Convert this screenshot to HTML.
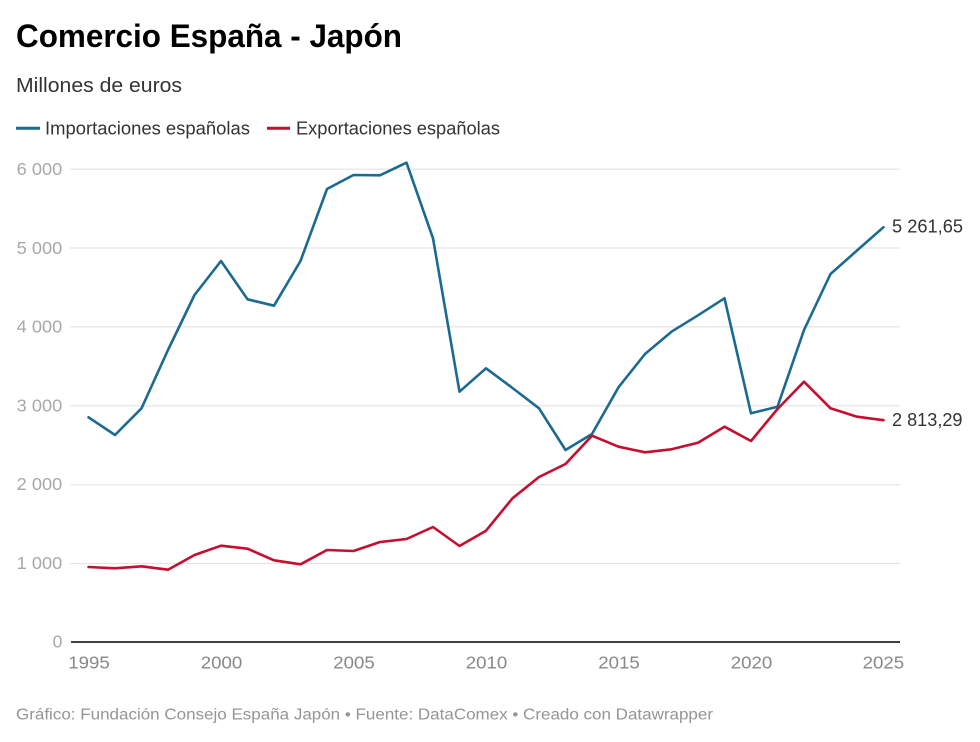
<!DOCTYPE html>
<html>
<head>
<meta charset="utf-8">
<style>
  html,body{margin:0;padding:0;background:#fff;}
  svg{display:block;}
  text{font-family:"Liberation Sans",sans-serif;}
</style>
</head>
<body>
<svg width="980" height="742" viewBox="0 0 980 742" xmlns="http://www.w3.org/2000/svg">
  <rect x="0" y="0" width="980" height="742" fill="#fff"/>
  <!-- Title -->
  <text x="16" y="47" font-size="32" font-weight="bold" fill="#000" textLength="386" lengthAdjust="spacingAndGlyphs">Comercio España - Japón</text>
  <text x="16" y="92" font-size="20" fill="#333" textLength="166" lengthAdjust="spacingAndGlyphs">Millones de euros</text>

  <!-- Legend -->
  <line x1="16" y1="128.3" x2="40" y2="128.3" stroke="#1b6a91" stroke-width="3"/>
  <text x="45" y="134.5" font-size="18.5" fill="#333" textLength="205" lengthAdjust="spacingAndGlyphs">Importaciones españolas</text>
  <line x1="267" y1="128.3" x2="290" y2="128.3" stroke="#c40f2e" stroke-width="3"/>
  <text x="296" y="134.5" font-size="18.5" fill="#333" textLength="204" lengthAdjust="spacingAndGlyphs">Exportaciones españolas</text>

  <!-- Gridlines -->
  <g stroke="#e4e4e4" stroke-width="1.2">
    <line x1="70" y1="169.2" x2="900" y2="169.2"/>
    <line x1="70" y1="248" x2="900" y2="248"/>
    <line x1="70" y1="326.9" x2="900" y2="326.9"/>
    <line x1="70" y1="405.8" x2="900" y2="405.8"/>
    <line x1="70" y1="484.7" x2="900" y2="484.7"/>
    <line x1="70" y1="563.5" x2="900" y2="563.5"/>
  </g>
  <line x1="71" y1="642" x2="900" y2="642" stroke="#000" stroke-width="1.4"/>

  <!-- Y labels -->
  <g font-size="17.5" fill="#a8a8a8">
    <text x="16.7" y="175" textLength="45.5" lengthAdjust="spacingAndGlyphs">6 000</text>
    <text x="16.7" y="253.8" textLength="45.5" lengthAdjust="spacingAndGlyphs">5 000</text>
    <text x="16.7" y="332.6" textLength="45.5" lengthAdjust="spacingAndGlyphs">4 000</text>
    <text x="16.7" y="411.4" textLength="45.5" lengthAdjust="spacingAndGlyphs">3 000</text>
    <text x="16.7" y="490.2" textLength="45.5" lengthAdjust="spacingAndGlyphs">2 000</text>
    <text x="16.7" y="569" textLength="45.5" lengthAdjust="spacingAndGlyphs">1 000</text>
    <text x="62.3" y="647.6" text-anchor="end">0</text>
  </g>

  <!-- X labels -->
  <g font-size="17.5" fill="#888">
    <text x="68.3" y="668.5" textLength="41.5" lengthAdjust="spacingAndGlyphs">1995</text>
    <text x="200.8" y="668.5" textLength="41.5" lengthAdjust="spacingAndGlyphs">2000</text>
    <text x="333.3" y="668.5" textLength="41.5" lengthAdjust="spacingAndGlyphs">2005</text>
    <text x="465.8" y="668.5" textLength="41.5" lengthAdjust="spacingAndGlyphs">2010</text>
    <text x="598.3" y="668.5" textLength="41.5" lengthAdjust="spacingAndGlyphs">2015</text>
    <text x="730.8" y="668.5" textLength="41.5" lengthAdjust="spacingAndGlyphs">2020</text>
    <text x="862.7" y="668.5" textLength="41.5" lengthAdjust="spacingAndGlyphs">2025</text>
  </g>

  <!-- Series: Importaciones -->
  <polyline fill="none" stroke="#1b6a91" stroke-width="2.6" stroke-linejoin="round" stroke-linecap="round"
    points="88.5,417.3 115,435 141.5,408.3 168,350 194.5,295 221,261 247.5,299.3 274,305.7 300.5,261 327,189 353.5,175 380,175.3 406.5,162.7 433,238.3 459.5,391.7 486,368.3 512.5,388 539,408.3 565.5,450 592,434 618.5,387.3 645,354 671.5,331.7 698,315.3 724.5,298.3 751,413.3 777.5,406.7 804,330 830.5,274 857,250.5 883.5,227.2"/>

  <!-- Series: Exportaciones -->
  <polyline fill="none" stroke="#c40f2e" stroke-width="2.6" stroke-linejoin="round" stroke-linecap="round"
    points="88.5,567 115,568.3 141.5,566.3 168,569.7 194.5,555 221,545.7 247.5,548.7 274,560.3 300.5,564.3 327,550 353.5,551 380,542 406.5,539 433,527 459.5,546 486,530.7 512.5,498.3 539,477 565.5,464 592,435.7 618.5,446.7 645,452.3 671.5,449.3 698,442.7 724.5,426.7 751,441 777.5,409 804,381.7 830.5,408.3 857,416.7 883.5,420.2"/>

  <!-- End labels -->
  <text x="892" y="232.5" font-size="18" fill="#333" textLength="71" lengthAdjust="spacingAndGlyphs">5 261,65</text>
  <text x="892" y="426" font-size="18" fill="#333" textLength="70.5" lengthAdjust="spacingAndGlyphs">2 813,29</text>

  <!-- Footer -->
  <text x="16" y="719.5" font-size="15.5" fill="#959595" textLength="697" lengthAdjust="spacingAndGlyphs">Gráfico: Fundación Consejo España Japón • Fuente: DataComex • Creado con Datawrapper</text>
</svg>
</body>
</html>
